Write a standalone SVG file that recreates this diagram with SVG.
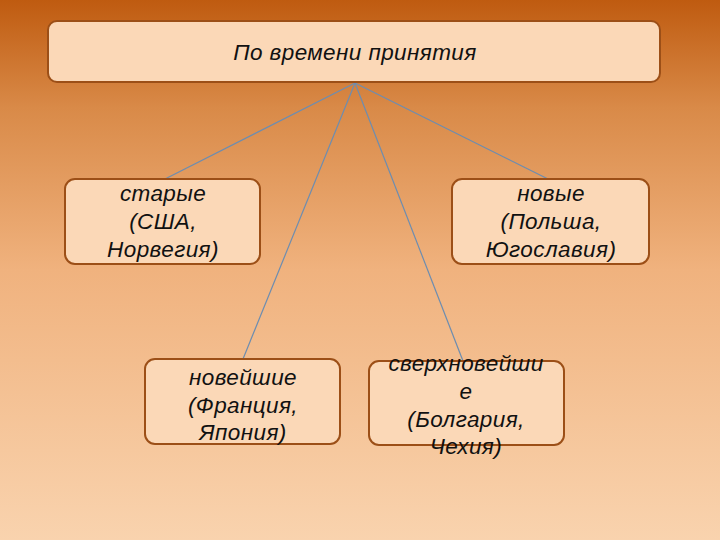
<svg xmlns="http://www.w3.org/2000/svg" width="720" height="540" viewBox="0 0 720 540">
<defs>
<linearGradient id="bg" x1="0" y1="0" x2="0" y2="1">
<stop offset="0" stop-color="#bf5b10"/>
<stop offset="0.2" stop-color="#d98a48"/>
<stop offset="0.5" stop-color="#f0b27e"/>
<stop offset="1" stop-color="#f9d3ae"/>
</linearGradient>
</defs>
<style>
.box{fill:#fbd8b7;stroke:#9c4f17;stroke-width:2}
.t{font-family:"Liberation Sans",Arial,sans-serif;font-style:italic;font-size:22.5px;fill:#111;text-anchor:middle;letter-spacing:0.4px}
.c{stroke:#6d8db0;stroke-width:1.2;fill:none}
</style>
<rect width="720" height="540" fill="url(#bg)"/>
<g id="connectors">
<line class="c" x1="355" y1="83" x2="165" y2="179"/>
<line class="c" x1="355" y1="83" x2="548" y2="179"/>
<line class="c" x1="355" y1="83" x2="243" y2="359"/>
<line class="c" x1="355" y1="83" x2="463" y2="361"/>
</g>
<g id="root">
<rect class="box" x="48" y="21" width="612" height="61" rx="9"/>
<text class="t" x="355" y="60">По времени принятия</text>
</g>
<g id="old">
<rect class="box" x="65" y="179" width="195" height="85" rx="10"/>
<text class="t" x="163" y="201">старые</text>
<text class="t" x="163" y="229">(США,</text>
<text class="t" x="163" y="257">Норвегия)</text>
</g>
<g id="new">
<rect class="box" x="452" y="179" width="197" height="85" rx="10"/>
<text class="t" x="551" y="201">новые</text>
<text class="t" x="551" y="229">(Польша,</text>
<text class="t" x="551" y="257">Югославия)</text>
</g>
<g id="newest">
<rect class="box" x="145" y="359" width="195" height="85" rx="10"/>
<text class="t" x="243" y="385">новейшие</text>
<text class="t" x="243" y="413">(Франция,</text>
<text class="t" x="243" y="440">Япония)</text>
</g>
<g id="supernew">
<rect class="box" x="369" y="361" width="195" height="84" rx="10"/>
<text class="t" x="466" y="371">сверхновейши</text>
<text class="t" x="466" y="399">е</text>
<text class="t" x="466" y="427">(Болгария,</text>
<text class="t" x="466" y="454">Чехия)</text>
</g>
</svg>
